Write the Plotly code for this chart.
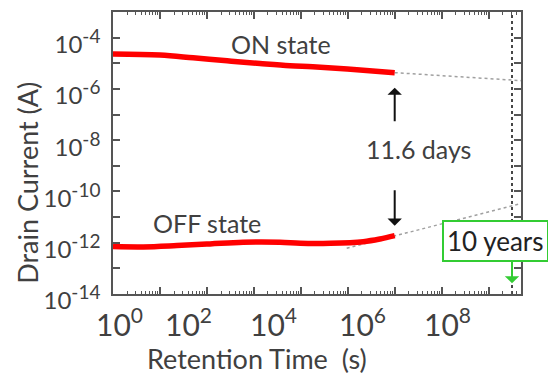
import math
import plotly.graph_objects as go

# ---- data ----
on_time = [1, 10, 51, 270, 1350, 5900, 18000, 98000, 1.0e6]
on_current = [2.28e-5, 2.08e-5, 1.63e-5, 1.25e-5, 9.8e-6, 8.0e-6, 7.3e-6, 5.96e-6, 4.3e-6]

off_time = [1, 4.4, 23, 117, 590, 3600, 9800, 43000, 214000, 490000, 1.0e6]
off_current = [7.06e-13, 6.87e-13, 7.73e-13, 8.97e-13, 1.04e-12, 1.04e-12,
               9.5e-13, 9.5e-13, 1.10e-12, 1.40e-12, 1.88e-12]

on_fit_time = [1.0e6, 4.9e8]
on_fit_current = [4.3e-6, 2.1e-6]
off_fit_time = [9.5e4, 4.9e8]
off_fit_current = [6.07e-13, 3.4e-11]

ten_years_s = 3.15e8
retention_end_s = 1.0e6   # 11.6 days

x_tick_exponents = [0, 2, 4, 6, 8]
x_tick_labels = ["10<sup>%d</sup>" % e for e in x_tick_exponents]
y_tick_exponents = list(range(-14, -2))
y_tick_labels = ["10<sup><span style='font-size:19px'>%d</span></sup>" % e if e % 2 == 0 else ""
                 for e in y_tick_exponents]

# ---- styling ----
FONT = "Lato, 'Open Sans', sans-serif"
TXT = "#404040"
FS = 25

fig = go.Figure()

fig.add_trace(go.Scatter(x=[ten_years_s, ten_years_s], y=[1e-14, 1e-3], mode="lines",
                         line=dict(color="#333333", width=1.8, dash="dot"),
                         hoverinfo="skip", showlegend=False))
fig.add_trace(go.Scatter(x=on_fit_time, y=on_fit_current, mode="lines",
                         line=dict(color="#a0a0a0", width=1.5, dash="dot"),
                         showlegend=False))
fig.add_trace(go.Scatter(x=off_fit_time, y=off_fit_current, mode="lines",
                         line=dict(color="#a0a0a0", width=1.5, dash="dot"),
                         showlegend=False))
fig.add_trace(go.Scatter(x=on_time, y=on_current, mode="lines",
                         line=dict(color="#ff0000", width=5.5, shape="spline"),
                         showlegend=False))
fig.add_trace(go.Scatter(x=off_time, y=off_current, mode="lines",
                         line=dict(color="#ff0000", width=5.5, shape="spline"),
                         showlegend=False))

annotations = []
# x tick labels
x_label_pos = [0.128, 1.60, 3.41, 5.31, 7.12]
for pos, lab in zip(x_label_pos, x_tick_labels):
    annotations.append(dict(x=pos, y=-0.1, xref="x", yref="paper", text=lab,
                            showarrow=False, xanchor="center", yanchor="middle",
                            font=dict(family=FONT, size=30, color=TXT)))
# axis titles
annotations.append(dict(x=0.353, y=-0.23, xref="paper", yref="paper",
                        text="Retention Time  (s)", showarrow=False,
                        xanchor="center", yanchor="middle",
                        font=dict(family=FONT, size=27, color=TXT)))
annotations.append(dict(x=-0.2085, y=0.394, xref="paper", yref="paper",
                        text="Drain Current (A)", textangle=-90, showarrow=False,
                        xanchor="center", yanchor="middle",
                        font=dict(family=FONT, size=27, color=TXT)))
# labels
annotations.append(dict(x=3.58, y=-4.24, text="ON state", showarrow=False,
                        xanchor="center", yanchor="middle",
                        font=dict(family=FONT, size=FS, color=TXT)))
annotations.append(dict(x=2.0, y=-11.23, text="OFF state", showarrow=False,
                        xanchor="center", yanchor="middle",
                        font=dict(family=FONT, size=FS, color=TXT)))
annotations.append(dict(x=6.50, y=-8.35, text="11.6 days", showarrow=False,
                        xanchor="center", yanchor="middle",
                        font=dict(family=FONT, size=FS, color=TXT)))
# arrows
lx = math.log10(retention_end_s)
annotations.append(dict(x=lx, y=-5.95, ax=0, ay=35, text="", showarrow=True,
                        arrowhead=1, arrowwidth=2, arrowsize=1.2, arrowcolor="#111111"))
annotations.append(dict(x=lx, y=-11.34, ax=0, ay=-37, text="", showarrow=True,
                        arrowhead=1, arrowwidth=2, arrowsize=1.2, arrowcolor="#111111"))
ty = math.log10(ten_years_s)
annotations.append(dict(x=ty, y=-13.585, ax=0, ay=-23, text="", showarrow=True,
                        arrowhead=1, arrowwidth=2, arrowsize=1.2, arrowcolor="#33cc33"))
# 10 years box
annotations.append(dict(x=7.007, y=-11.95, text="10 years", showarrow=False,
                        xanchor="left", yanchor="middle",
                        bgcolor="white", bordercolor="#33cc33", borderwidth=2, borderpad=3,
                        font=dict(family=FONT, size=26, color="#222222")))

fig.update_layout(
    width=548, height=375,
    margin=dict(l=113, r=27, t=10, b=81),
    paper_bgcolor="white", plot_bgcolor="white",
    font=dict(family=FONT, size=FS, color=TXT),
    annotations=annotations,
    showlegend=False,
)

minor_x = [m * 10 ** k for k in range(0, 9) for m in range(2, 10)]
fig.update_xaxes(type="log", range=[0, 8.69],
                 tickvals=[10 ** k for k in range(0, 9)], showticklabels=False,
                 ticks="inside", ticklen=7, tickwidth=1.5, tickcolor="#555555",
                 minor=dict(tickvals=minor_x, ticks="inside", ticklen=3, tickwidth=1,
                            tickcolor="#555555", showgrid=False),
                 showline=True, linecolor="#555555", linewidth=1.5, mirror="ticks",
                 showgrid=False, zeroline=False)
fig.update_yaxes(type="log", range=[-14, -3],
                 tickvals=[10.0 ** e for e in y_tick_exponents], ticktext=y_tick_labels,
                 ticks="inside", ticklen=7, tickwidth=1.5, tickcolor="#555555",
                 ticklabelstandoff=6, ticklabelshift=7,
                 tickfont=dict(family=FONT, size=24, color=TXT),
                 showline=True, linecolor="#555555", linewidth=1.5, mirror="ticks",
                 showgrid=False, zeroline=False)

fig.write_html("out.html", config={"displayModeBar": False},
               post_script="document.body.style.margin='0';document.body.style.overflow='hidden';")
